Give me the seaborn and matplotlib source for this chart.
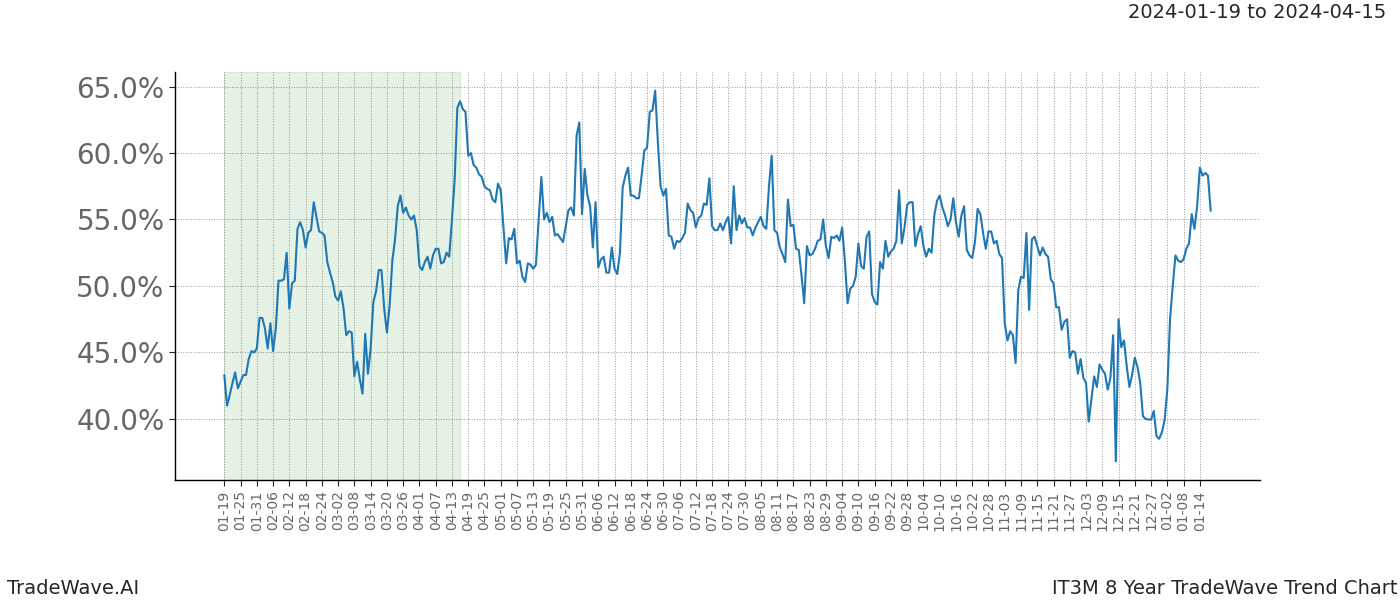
import matplotlib
matplotlib.use("Agg")
import matplotlib.pyplot as plt
import matplotlib.ticker as mticker
import seaborn as sns
import pandas as pd

start_date = "2023-01-19"
values = [
    43.3, 41.0, 41.8, 42.7, 43.5, 42.3, 42.8, 43.3, 43.3, 44.5,
    45.1, 45.0, 45.3, 47.6, 47.6, 46.8, 45.3, 47.2, 45.1, 46.8,
    50.4, 50.4, 50.5, 52.5, 48.3, 50.2, 50.4, 54.3, 54.8, 54.2,
    52.9, 54.0, 54.2, 56.3, 55.2, 54.1, 54.0, 53.8, 51.8, 51.0,
    50.3, 49.2, 48.9, 49.6, 48.3, 46.3, 46.6, 46.5, 43.2, 44.3,
    43.0, 41.9, 46.4, 43.4, 45.3, 48.8, 49.6, 51.2, 51.2, 48.3,
    46.5, 48.5, 51.9, 53.5, 56.0, 56.8, 55.5, 55.9, 55.3, 55.0,
    55.3, 54.2, 51.5, 51.2, 51.8, 52.2, 51.3, 52.3, 52.8, 52.8,
    51.7, 51.8, 52.5, 52.2, 55.0, 58.0, 63.4, 63.9, 63.3, 63.1,
    59.8, 60.0, 59.1, 58.9, 58.4, 58.2, 57.5, 57.3, 57.2, 56.5,
    56.3, 57.7, 57.2, 54.5, 51.7, 53.6, 53.5, 54.3, 51.7, 51.9,
    50.7, 50.3, 51.7, 51.6, 51.3, 51.6, 55.0, 58.2, 55.0, 55.5,
    54.8, 55.2, 53.8, 53.9, 53.6, 53.3, 54.5, 55.7, 55.9, 55.3,
    61.3, 62.3, 55.4, 58.8, 56.8, 56.0, 52.9, 56.3, 51.4, 52.0,
    52.2, 51.0, 51.0, 52.9, 51.3, 50.9, 52.5, 57.4, 58.3, 58.9,
    56.8, 56.8, 56.6, 56.6, 58.3, 60.2, 60.4, 63.1, 63.2, 64.7,
    60.8, 57.5, 56.8, 57.3, 53.8, 53.7, 52.8, 53.4, 53.3, 53.6,
    54.0, 56.2, 55.7, 55.5, 54.4, 55.1, 55.3, 56.2, 56.1, 58.1,
    54.5, 54.2, 54.2, 54.7, 54.2, 54.8, 55.2, 53.2, 57.5, 54.2,
    55.3, 54.7, 55.1, 54.4, 54.4, 53.8, 54.4, 54.8, 55.2, 54.5,
    54.3, 57.5, 59.8, 54.2, 54.0, 52.9, 52.4, 51.8, 56.5, 54.5,
    54.6, 52.8, 52.7, 50.8, 48.7, 53.0, 52.3, 52.4, 52.8, 53.4,
    53.5, 55.0, 53.0, 52.1, 53.7, 53.6, 53.8, 53.4, 54.4, 51.9,
    48.7, 49.8, 50.0, 50.7, 53.2, 51.5, 51.3, 53.7, 54.1, 49.4,
    48.8, 48.6, 51.8, 51.3, 53.4, 52.2, 52.6, 52.8, 53.4, 57.2,
    53.2, 54.4, 56.1, 56.3, 56.3, 53.0, 53.9, 54.5, 53.0, 52.2,
    52.8, 52.5, 55.3, 56.4, 56.8, 55.9, 55.3, 54.5, 55.0, 56.6,
    54.8, 53.7, 55.3, 56.0, 52.7, 52.3, 52.1, 53.3, 55.8, 55.4,
    54.0, 52.8, 54.1, 54.1, 53.2, 53.4, 52.4, 52.1, 47.2, 45.9,
    46.6, 46.3, 44.2, 49.7, 50.7, 50.6, 54.0, 48.2, 53.5, 53.7,
    53.0, 52.3, 52.9, 52.4, 52.2, 50.5, 50.2, 48.4, 48.4, 46.7,
    47.3, 47.5, 44.6, 45.1, 45.0, 43.4, 44.5, 43.1, 42.7, 39.8,
    41.5, 43.2, 42.4, 44.1, 43.7, 43.4, 42.2, 43.1, 46.3, 36.8,
    47.5, 45.4, 45.9, 44.0, 42.4, 43.3, 44.6, 43.9, 42.7, 40.2,
    40.0, 39.95, 39.95, 40.6, 38.7, 38.5, 39.0, 39.9, 42.2, 47.5,
    50.0, 52.3, 51.9, 51.8, 52.0, 52.8, 53.2, 55.4, 54.3, 56.0,
    58.9, 58.3, 58.5, 58.3, 55.65,
]
shade_start = "2023-01-19"
shade_end = "2023-04-16"
tick_start = "2023-01-19"
tick_end = "2024-01-14"
title_text = "2024-01-19 to 2024-04-15"
left_text = "TradeWave.AI"
right_text = "IT3M 8 Year TradeWave Trend Chart"

dates = pd.date_range(start_date, periods=len(values), freq="D")
df = pd.DataFrame({"date": dates, "value": values})

sns.set_style("white")
plt.rcParams["font.family"] = ["DejaVu Sans"]

fig, ax = plt.subplots(figsize=(14, 6), dpi=100)
fig.subplots_adjust(left=0.125, right=0.9, top=0.88, bottom=0.2)

ax.axvspan(pd.Timestamp(shade_start), pd.Timestamp(shade_end), color="green", alpha=0.1)
sns.lineplot(data=df, x="date", y="value", ax=ax, color="#1f77b4", linewidth=1.5)

ticks = pd.date_range(tick_start, tick_end, freq="6D")
ax.set_xticks(ticks)
ax.set_xticklabels([t.strftime("%m-%d") for t in ticks], rotation=90, fontsize=10, color="#666666")
ax.yaxis.set_major_locator(mticker.MultipleLocator(5))
ax.yaxis.set_major_formatter(mticker.FuncFormatter(lambda v, p: f"{v:.1f}%"))
ax.tick_params(axis="y", labelsize=20, labelcolor="#666666", left=True, length=4)
ax.tick_params(axis="x", bottom=True, length=4)

ax.grid(True, which="major", linestyle=":", color="#999999", linewidth=0.7)
ax.set_axisbelow(True)
for s in ["top", "right"]:
    ax.spines[s].set_visible(False)
for s in ["left", "bottom"]:
    ax.spines[s].set_color("black")
    ax.spines[s].set_linewidth(1.0)
ax.set_xlabel("")
ax.set_ylabel("")

fig.text(0.99, 0.98, title_text, ha="right", va="center", fontsize=14)
fig.text(0.005, 0.02, left_text, ha="left", va="center", fontsize=14)
fig.text(0.998, 0.02, right_text, ha="right", va="center", fontsize=14)

fig.savefig("out.png", dpi=100)
